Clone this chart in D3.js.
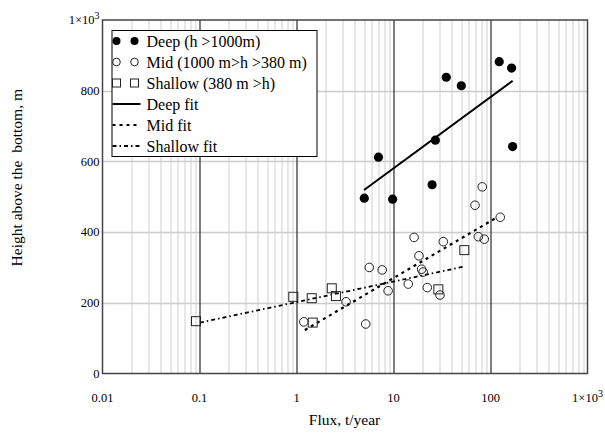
<!DOCTYPE html>
<html>
<head>
<meta charset="utf-8">
<script src="https://cdn.jsdelivr.net/npm/d3@7"></script>
<style>
    body { margin: 0; background: #fff; }
    svg text { font-family: "Liberation Serif", "DejaVu Serif", serif; fill: #000; }
</style>
</head>
<body>
<svg id="chart"></svg>
<script>
// Data
var deepFlux = [5.0, 9.8, 25, 7.0, 35, 50, 27, 123, 165, 169];
var deepHeight = [496, 493, 534, 612, 838, 814, 660, 882, 864, 642];

var midFlux = [1.19, 3.24, 5.17, 5.63, 7.65, 8.8, 14.2, 16.3, 18.3, 19.5, 20.2, 22.3, 30.1, 32.6, 74.9, 86.3, 69.2, 82.3, 126];
var midHeight = [146, 203, 140, 300, 293, 234, 253, 385, 333, 295, 287, 243, 222, 373, 387, 380, 476, 528, 442];

var shallowFlux = [0.092, 0.927, 1.435, 2.31, 2.55, 1.47, 29, 53.7];
var shallowHeight = [148, 217, 213, 241, 219, 144, 238, 349];

// Fit lines (end points)
var deepFitFlux = [4.97, 169];
var deepFitHeight = [519, 828];
var midFitFlux = [1.22, 114];
var midFitHeight = [123, 440];
var shallowFitFlux = [0.101, 52.5];
var shallowFitHeight = [144, 302];

// Tick labels
var xTicks = [0.01, 0.1, 1, 10, 100, 1000];
var xTickLabels = ["0.01", "0.1", "1", "10", "100", "1×10|3"];
var yTicks = [0, 200, 400, 600, 800, 1000];
var yTickLabels = ["0", "200", "400", "600", "800", "1×10|3"];

var legendLabels = ["Deep (h >1000m)", "Mid (1000 m>h >380 m)", "Shallow (380 m >h)", "Deep fit", "Mid fit", "Shallow fit"];

// Define margins
var margin = { top: 20, right: 17.5, bottom: 60.5, left: 102.5 },
    width = 605 - margin.left - margin.right,
    height = 434 - margin.top - margin.bottom;

// Define scales
var xScale = d3.scaleLog().domain([0.01, 1000]).range([0, width]);
var yScale = d3.scaleLinear().domain([0, 1000]).range([height, 0]);

var svg = d3.select("#chart")
    .attr("width", 605)
    .attr("height", 434)
    .style("font-family", "'Liberation Serif', serif")
    .append("g")
    .attr("transform", "translate(" + margin.left + "," + margin.top + ")");

// Minor vertical grid lines
var minor = [];
for (var e = -2; e < 3; e++) {
    for (var m = 2; m <= 9; m++) minor.push(m * Math.pow(10, e));
}
svg.selectAll(".minor")
    .data(minor)
    .enter()
    .append("line")
    .attr("class", "minor")
    .attr("x1", function (d) { return Math.round(xScale(d)) + 0.5; })
    .attr("x2", function (d) { return Math.round(xScale(d)) + 0.5; })
    .attr("y1", 0)
    .attr("y2", height)
    .style("stroke", "#cfcfcf")
    .style("stroke-width", 1);

// Horizontal grid lines
svg.selectAll(".hgrid")
    .data([200, 400, 600, 800])
    .enter()
    .append("line")
    .attr("class", "hgrid")
    .attr("x1", 0)
    .attr("x2", width)
    .attr("y1", function (d) { return Math.round(yScale(d)) + 0.5; })
    .attr("y2", function (d) { return Math.round(yScale(d)) + 0.5; })
    .style("stroke", "#cccccc")
    .style("stroke-width", 1.5);

// Decade lines
svg.selectAll(".decade")
    .data([0.1, 1, 10, 100])
    .enter()
    .append("line")
    .attr("class", "decade")
    .attr("x1", function (d) { return Math.round(xScale(d)) + 0.5; })
    .attr("x2", function (d) { return Math.round(xScale(d)) + 0.5; })
    .attr("y1", 0)
    .attr("y2", height)
    .style("stroke", "#3a3a3a")
    .style("stroke-width", 1.3);

// Frame
svg.append("rect")
    .attr("x", 0)
    .attr("y", 0)
    .attr("width", width)
    .attr("height", height)
    .style("fill", "none")
    .style("stroke", "#444")
    .style("stroke-width", 1.5);

// Tick labels with optional superscript
function tickText(sel, label) {
    var parts = label.split("|");
    sel.text(parts[0]);
    if (parts.length > 1) {
        sel.append("tspan")
            .attr("dy", "-0.5em")
            .style("font-size", "10px")
            .text(parts[1]);
    }
}

var xAxis = svg.append("g").attr("class", "x axis");
xTicks.forEach(function (t, i) {
    var lab = xAxis.append("text")
        .attr("x", xScale(t))
        .attr("y", height + 28)
        .style("text-anchor", "middle")
        .style("font-size", "12.5px");
    tickText(lab, xTickLabels[i]);
});

var yAxis = svg.append("g").attr("class", "y axis");
yTicks.forEach(function (t, i) {
    var lab = yAxis.append("text")
        .attr("x", -3)
        .attr("y", yScale(t))
        .attr("dy", "0.35em")
        .style("text-anchor", "end")
        .style("font-size", "12.5px");
    tickText(lab, yTickLabels[i]);
});

// Axis titles
svg.append("text")
    .attr("x", width / 2 - 0.5)
    .attr("y", height + 51)
    .style("text-anchor", "middle")
    .style("font-size", "15.5px")
    .text("Flux, t/year");

svg.append("text")
    .attr("transform", "rotate(-90)")
    .attr("x", -(yScale(500) - 19))
    .attr("y", -81)
    .style("text-anchor", "middle")
    .style("font-size", "15.5px")
    .style("white-space", "pre")
    .text("Height above the  bottom, m");

// Fit lines
var line = d3.line()
    .x(function (d) { return xScale(d[0]); })
    .y(function (d) { return yScale(d[1]); });

var fits = [
    { flux: deepFitFlux, height: deepFitHeight, dash: null, w: 2 },
    { flux: midFitFlux, height: midFitHeight, dash: "3,4", w: 2.2 },
    { flux: shallowFitFlux, height: shallowFitHeight, dash: "4,3,1.5,3", w: 1.8 }
];

svg.selectAll(".fit")
    .data(fits)
    .enter()
    .append("path")
    .attr("class", "fit")
    .attr("d", function (d) {
        return line(d.flux.map(function (f, i) { return [f, d.height[i]]; }));
    })
    .style("fill", "none")
    .style("stroke", "#000")
    .style("stroke-width", function (d) { return d.w; })
    .style("stroke-dasharray", function (d) { return d.dash; });

// Points
function pairs(xs, ys) {
    return xs.map(function (x, i) { return [x, ys[i]]; });
}

svg.selectAll(".deep")
    .data(pairs(deepFlux, deepHeight))
    .enter()
    .append("circle")
    .attr("class", "deep")
    .attr("cx", function (d) { return xScale(d[0]); })
    .attr("cy", function (d) { return yScale(d[1]); })
    .attr("r", 4.6)
    .style("fill", "#000");

svg.selectAll(".mid")
    .data(pairs(midFlux, midHeight))
    .enter()
    .append("circle")
    .attr("class", "mid")
    .attr("cx", function (d) { return xScale(d[0]); })
    .attr("cy", function (d) { return yScale(d[1]); })
    .attr("r", 4.3)
    .style("fill", "none")
    .style("stroke", "#222")
    .style("stroke-width", 1);

svg.selectAll(".shallow")
    .data(pairs(shallowFlux, shallowHeight))
    .enter()
    .append("rect")
    .attr("class", "shallow")
    .attr("x", function (d) { return xScale(d[0]) - 4.5; })
    .attr("y", function (d) { return yScale(d[1]) - 4.5; })
    .attr("width", 9)
    .attr("height", 9)
    .style("fill", "none")
    .style("stroke", "#222")
    .style("stroke-width", 1);

// Legend
var legend = svg.append("g")
    .attr("transform", "translate(" + (111.5 - margin.left) + "," + (30 - margin.top) + ")");

legend.append("rect")
    .attr("x", 0.5)
    .attr("y", 0.5)
    .attr("width", 205)
    .attr("height", 126)
    .style("fill", "#fff")
    .style("stroke", "#000")
    .style("stroke-width", 1);

var rowY = function (i) { return 11 + i * 21; };

legendLabels.forEach(function (lab, i) {
    legend.append("text")
        .attr("x", 35)
        .attr("y", rowY(i))
        .attr("dy", "0.35em")
        .style("font-size", "16px")
        .text(lab);
});

[5, 23].forEach(function (x) {
    legend.append("circle")
        .attr("cx", x).attr("cy", rowY(0)).attr("r", 4)
        .style("fill", "#000");
    legend.append("circle")
        .attr("cx", x).attr("cy", rowY(1)).attr("r", 3.8)
        .style("fill", "none").style("stroke", "#222");
    legend.append("rect")
        .attr("x", x - 4).attr("y", rowY(2) - 4).attr("width", 8).attr("height", 8)
        .style("fill", "none").style("stroke", "#222");
});

fits.forEach(function (f, i) {
    legend.append("line")
        .attr("x1", 1)
        .attr("x2", 29)
        .attr("y1", rowY(3 + i))
        .attr("y2", rowY(3 + i))
        .style("stroke", "#000")
        .style("stroke-width", f.w)
        .style("stroke-dasharray", f.dash);
});
</script>
</body>
</html>
